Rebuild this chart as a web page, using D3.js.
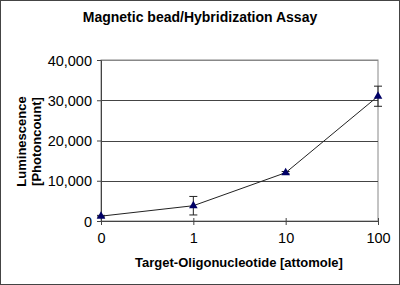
<!DOCTYPE html>
<html lang="en">
<head>
<meta charset="UTF-8">
<title>Magnetic bead/Hybridization Assay</title>
<style>
  body { margin: 0; background: #fff; }
  text { font-family: "Liberation Sans", Arial, sans-serif; fill: #000; }
  .title { font-size: 14px; font-weight: bold; }
  .axis-title { font-size: 13px; font-weight: bold; }
  .tick text { font-size: 14.5px; }
</style>
</head>
<body>
<svg width="400" height="285"></svg>
<script src="https://d3js.org/d3.v7.min.js"></script>
<script>
// data
const categories = ["0", "1", "10", "100"];
const luminescence = [1200, 3800, 12000, 31000];
const errors = [200, 2300, 300, 2500];
const yTicks = [0, 10000, 20000, 30000, 40000];

const svg = d3.select("svg");
const margin = { top: 60, right: 22, bottom: 64, left: 101 };
const width = 400 - margin.left - margin.right,
      height = 285 - margin.top - margin.bottom;

// outer frame
svg.append("rect")
    .attr("x", 0.5).attr("y", 0.5)
    .attr("width", 399).attr("height", 284)
    .attr("fill", "#fff").attr("stroke", "#444");

svg.append("text")
    .attr("class", "title")
    .attr("x", 200).attr("y", 22)
    .attr("text-anchor", "middle")
    .text("Magnetic bead/Hybridization Assay");

const g = svg.append("g")
    .attr("transform", "translate(" + margin.left + "," + margin.top + ")");

const x = d3.scalePoint().domain(categories).range([0, width]).padding(0);
const y = d3.scaleLinear().domain([0, 40000]).range([height, 0]);

// plot frame (top/right)
g.append("rect")
    .attr("x", 0).attr("y", 0)
    .attr("width", width).attr("height", height)
    .attr("fill", "none").attr("stroke", "#888");

// gridlines
g.selectAll(".grid")
    .data(yTicks.slice(1))
    .join("line")
    .attr("class", "grid")
    .attr("x1", 0).attr("x2", width)
    .attr("y1", d => Math.round(y(d)) + 0.5)
    .attr("y2", d => Math.round(y(d)) + 0.5)
    .attr("stroke", d => d === 40000 ? "#888" : "#444");

// y axis
const yAxis = g.append("g")
    .call(d3.axisLeft(y).tickValues(yTicks).tickSize(4).tickPadding(5)
        .tickFormat(d3.format(",")));
yAxis.select(".domain").attr("stroke", "#444");
yAxis.selectAll(".tick line").attr("stroke", "#444");
yAxis.selectAll("text").attr("dy", "0.36em");

// x axis
const xAxis = g.append("g")
    .attr("transform", "translate(0," + height + ")")
    .call(d3.axisBottom(x).tickSize(4).tickPadding(8));
xAxis.select(".domain").attr("stroke", "#444");
xAxis.selectAll(".tick line").attr("stroke", "#444").attr("y1", -3);

// axis titles
svg.append("text")
    .attr("class", "axis-title")
    .attr("x", 239).attr("y", 267)
    .attr("text-anchor", "middle")
    .text("Target-Oligonucleotide [attomole]");

const yt = svg.append("text")
    .attr("class", "axis-title")
    .attr("transform", "translate(26," + (margin.top + height / 2 + 1) + ") rotate(-90)")
    .attr("text-anchor", "middle");
yt.append("tspan").attr("x", 0).attr("dy", 0).text("Luminescence");
yt.append("tspan").attr("x", 0).attr("dy", 15).text("[Photoncount]");

const pts = categories.map((c, i) => ({ c, v: luminescence[i], e: errors[i] }));

// line
g.append("path")
    .datum(pts)
    .attr("fill", "none")
    .attr("stroke", "#222")
    .attr("stroke-width", 1)
    .attr("d", d3.line().x(d => x(d.c)).y(d => y(d.v)));

// error bars
const eb = g.selectAll(".err").data(pts).join("g").attr("class", "err").attr("stroke", "#222");
eb.append("line")
    .attr("x1", d => x(d.c)).attr("x2", d => x(d.c))
    .attr("y1", d => y(d.v - d.e)).attr("y2", d => y(d.v + d.e));
eb.append("line")
    .attr("x1", d => x(d.c) - 4).attr("x2", d => x(d.c) + 4)
    .attr("y1", d => y(d.v - d.e)).attr("y2", d => y(d.v - d.e));
eb.append("line")
    .attr("x1", d => x(d.c) - 4).attr("x2", d => x(d.c) + 4)
    .attr("y1", d => y(d.v + d.e)).attr("y2", d => y(d.v + d.e));

// markers
g.selectAll(".marker")
    .data(pts)
    .join("path")
    .attr("class", "marker")
    .attr("transform", d => "translate(" + x(d.c) + "," + y(d.v) + ")")
    .attr("d", d3.symbol().type(d3.symbolTriangle).size(32))
    .attr("fill", "#000066");
</script>
</body>
</html>
